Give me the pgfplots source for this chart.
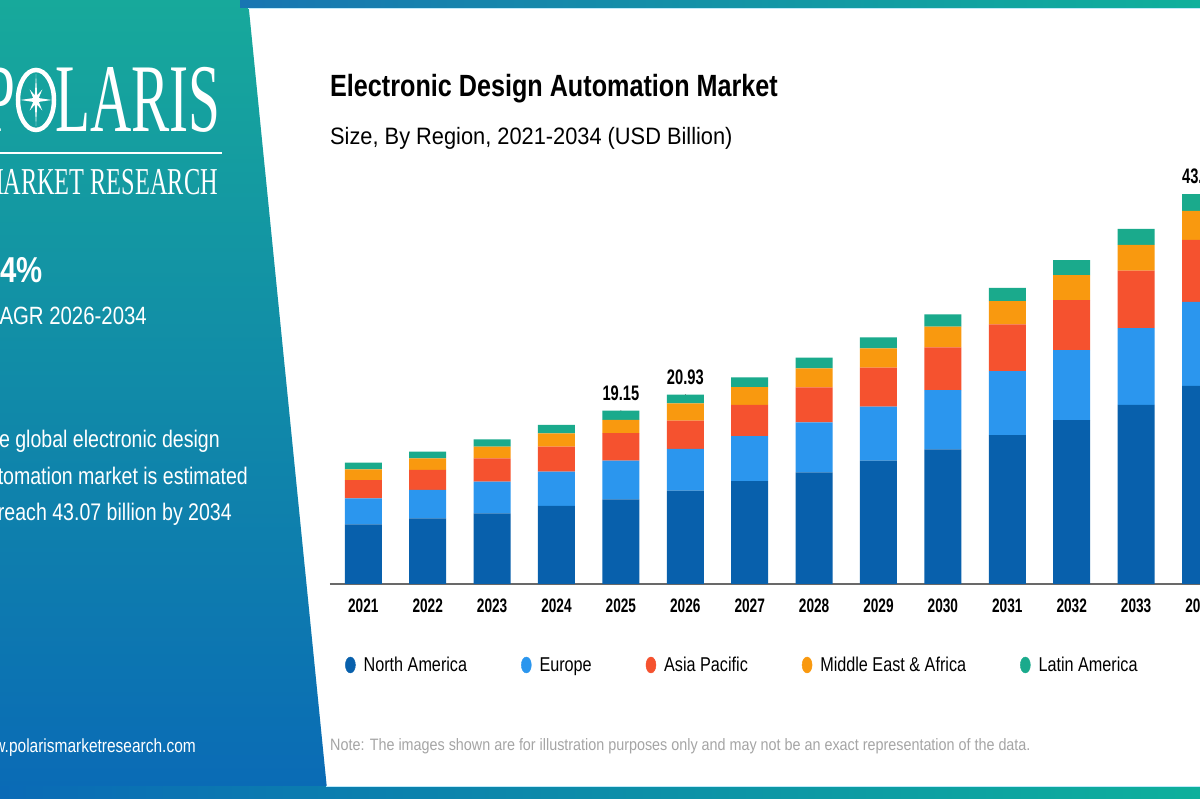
\documentclass[border=0pt]{standalone}
\usepackage{pgfplots}
\pgfplotsset{compat=1.18}
\usepackage{fontspec}
\setmainfont{Liberation Sans}
\newfontfamily\fTitle{Liberation Sans}[FakeStretch=0.82]
\newfontfamily\fSub{Liberation Sans}[FakeStretch=0.92]
\newfontfamily\fTick{Liberation Sans}[FakeStretch=0.70]
\newfontfamily\fLeg{Liberation Sans}[FakeStretch=0.81]
\newfontfamily\fNote{Liberation Sans}[FakeStretch=0.87]
\newfontfamily\fPanel{Liberation Sans}[FakeStretch=0.815]
\newfontfamily\fLogo{Liberation Serif}[FakeStretch=0.59]
\newfontfamily\fLogoB{Liberation Serif}[FakeStretch=0.64]

\definecolor{cNA}{RGB}{8,96,172}
\definecolor{cEU}{RGB}{43,150,238}
\definecolor{cAP}{RGB}{245,82,47}
\definecolor{cME}{RGB}{249,153,15}
\definecolor{cLA}{RGB}{26,170,140}
\definecolor{pTop}{RGB}{23,169,155}
\definecolor{pMid}{RGB}{14,140,172}
\definecolor{pBot}{RGB}{10,106,182}
\definecolor{bL}{RGB}{24,118,178}
\definecolor{bR}{RGB}{14,176,156}
\definecolor{axgray}{RGB}{105,105,105}
\definecolor{notegray}{RGB}{165,165,165}
\newsavebox\chartbox

\begin{document}
\sbox\chartbox{%
\begin{tikzpicture}
\path (-330pt,-215pt) rectangle (0pt,0pt);
\begin{axis}[
  at={(0pt,0pt)}, anchor=south west,
  x=64.4pt, y=9.05pt,
  xmin=-0.517, xmax=13.5, ymin=0, ymax=48,
  ybar stacked, bar width=37pt,
  axis x line*=bottom, axis y line=none,
  axis line style={draw=axgray, line width=1.5pt},
  xtick={0,...,13},
  xticklabels={2021,2022,2023,2024,2025,2026,2027,2028,2029,2030,2031,2032,2033,2034},
  major tick length=0pt,
  xticklabel style={font=\fTick\bfseries\fontsize{19.5}{20}\selectfont, anchor=base, yshift=-28.5pt, inner sep=0pt},
  ytick=\empty,
  clip=false,
  legend columns=5,
  legend style={at={(axis description cs:0,0)}, anchor=west, xshift=15pt, yshift=-81pt,
    draw=none, fill=none, inner sep=0pt,
    font=\fLeg\fontsize{20}{22}\selectfont,
    nodes={inner sep=0pt},
    /tikz/every odd column/.append style={column sep=8pt},
    /tikz/every even column/.append style={column sep=54pt}},
]
\addplot[fill=cNA, draw=none, forget plot] coordinates {(0,6.60) (1,7.26) (2,7.81) (3,8.62) (4,9.36) (5,10.31) (6,11.38) (7,12.34) (8,13.62) (9,14.88) (10,16.46) (11,18.12) (12,19.78) (13,21.89)};
\addplot[fill=cEU, draw=none, forget plot] coordinates {(0,2.87) (1,3.13) (2,3.49) (3,3.79) (4,4.27) (5,4.61) (6,4.97) (7,5.52) (8,5.97) (9,6.55) (10,7.07) (11,7.73) (12,8.48) (13,9.28)};
\addplot[fill=cAP, draw=none, forget plot] coordinates {(0,2.02) (1,2.21) (2,2.59) (3,2.76) (4,3.03) (5,3.13) (6,3.43) (7,3.87) (8,4.31) (9,4.72) (10,5.16) (11,5.52) (12,6.36) (13,6.85)};
\addplot[fill=cME, draw=none, forget plot] coordinates {(0,1.18) (1,1.29) (2,1.28) (3,1.48) (4,1.47) (5,1.92) (6,1.96) (7,2.10) (8,2.14) (9,2.28) (10,2.57) (11,2.76) (12,2.84) (13,3.20)};
\addplot[fill=cLA, draw=none, forget plot] coordinates {(0,0.73) (1,0.73) (2,0.82) (3,0.92) (4,1.02) (5,0.96) (6,1.10) (7,1.17) (8,1.22) (9,1.37) (10,1.47) (11,1.66) (12,1.77) (13,1.85)};
\addlegendimage{legend image code/.code={\fill[cNA] (0pt,0pt) ellipse (5pt and 8pt);}}
\addlegendentry{North America}
\addlegendimage{legend image code/.code={\fill[cEU] (0pt,0pt) ellipse (5pt and 8pt);}}
\addlegendentry{Europe}
\addlegendimage{legend image code/.code={\fill[cAP] (0pt,0pt) ellipse (5pt and 8pt);}}
\addlegendentry{Asia Pacific}
\addlegendimage{legend image code/.code={\fill[cME] (0pt,0pt) ellipse (5pt and 8pt);}}
\addlegendentry{Middle East \& Africa}
\addlegendimage{legend image code/.code={\fill[cLA] (0pt,0pt) ellipse (5pt and 8pt);}}
\addlegendentry{Latin America}
\end{axis}
\begin{axis}[
  at={(0pt,0pt)}, anchor=south west,
  x=64.4pt, y=9.05pt,
  xmin=-0.517, xmax=13.5, ymin=0, ymax=48,
  hide axis, clip=false,
]
\addplot[only marks, mark=*, mark size=0.01pt, mark options={draw=none, fill=none},
  nodes near coords, point meta=explicit symbolic,
  nodes near coords style={anchor=base, yshift=10.5pt, inner sep=0pt, text=black, font=\fTick\bfseries\fontsize{21}{22}\selectfont}]
  coordinates {(4,19.15)[19.15] (5,20.93)[20.93] (13,43.07)[43.07]};
\end{axis}
\end{tikzpicture}}%
\begin{tikzpicture}[x=1pt,y=1pt]
\useasboundingbox (0,0) rectangle (1200,799);
\clip (0,0) rectangle (1200,799);
\fill[white] (0,0) rectangle (1200,799);
% left panel
\shade[top color=pTop, middle color=pMid, bottom color=pBot] (0,0) -- (328,0) -- (248,799) -- (0,799) -- cycle;
% top and bottom bars
\shade[left color=bL, right color=bR] (240,791) rectangle (1200,799);
\draw[cyan!25, line width=1] (248,790.5) -- (1200,790.5);
\shade[left color=pBot, right color=bR] (0,0) rectangle (1200,12);
\draw[cyan!25, line width=1] (326,12.5) -- (1200,12.5);

% logo
\node[anchor=base east, text=white, inner sep=0, font=\fLogo\fontsize{97}{97}\selectfont] at (16,667) {P};
\begin{scope}[shift={(36,699)}, xscale=0.6]
 \draw[white, line width=4.5] (0,0) circle (30);
 \fill[white] (90:26) -- (67.5:5) -- (45:15) -- (22.5:5) -- (0:26) -- (-22.5:5) -- (-45:15) -- (-67.5:5) -- (-90:26) -- (-112.5:5) -- (-135:15) -- (-157.5:5) -- (180:26) -- (157.5:5) -- (135:15) -- (112.5:5) -- cycle;
\end{scope}
\node[anchor=base west, text=white, inner sep=0, font=\fLogo\fontsize{97}{97}\selectfont] at (55,667) {LARIS};
\draw[white, line width=2] (0,646) -- (222,646);
\node[anchor=base east, text=white, inner sep=0, font=\fLogoB\fontsize{38}{38}\selectfont] at (218,604) {MARKET RESEARCH};

% panel texts
\node[anchor=base west, text=white, inner sep=0, font=\fPanel\bfseries\fontsize{36}{36}\selectfont] at (0,516) {4\%};
\node[anchor=base east, text=white, inner sep=0, font=\fPanel\fontsize{25}{26}\selectfont] at (147,474) {CAGR 2026-2034};
\node[anchor=base east, text=white, inner sep=0, font=\fPanel\fontsize{24}{26}\selectfont] at (220,351) {The global electronic design};
\node[anchor=base east, text=white, inner sep=0, font=\fPanel\fontsize{24}{26}\selectfont] at (248,314) {automation market is estimated};
\node[anchor=base east, text=white, inner sep=0, font=\fPanel\fontsize{24}{26}\selectfont] at (232,278) {to reach 43.07 billion by 2034};
\node[anchor=base east, text=white, inner sep=0, font=\fPanel\fontsize{19}{20}\selectfont] at (196,46) {www.polarismarketresearch.com};

% titles
\node[anchor=base west, inner sep=0, font=\fTitle\bfseries\fontsize{30.7}{32}\selectfont] at (330,702) {Electronic Design Automation Market};
\node[anchor=base west, inner sep=0, font=\fSub\fontsize{23.7}{25}\selectfont] at (330,654) {Size, By Region, 2021-2034 (USD Billion)};
\node[anchor=base west, inner sep=0, text=notegray, font=\fNote\fontsize{16.5}{18}\selectfont] at (330,48) {Note: The images shown are for illustration purposes only and may not be an exact representation of the data.};

% chart (pgfplots axes, typeset above)
\node[anchor=south west, inner sep=0, outer sep=0] at (0,0) {\usebox\chartbox};
\end{tikzpicture}
\end{document}
